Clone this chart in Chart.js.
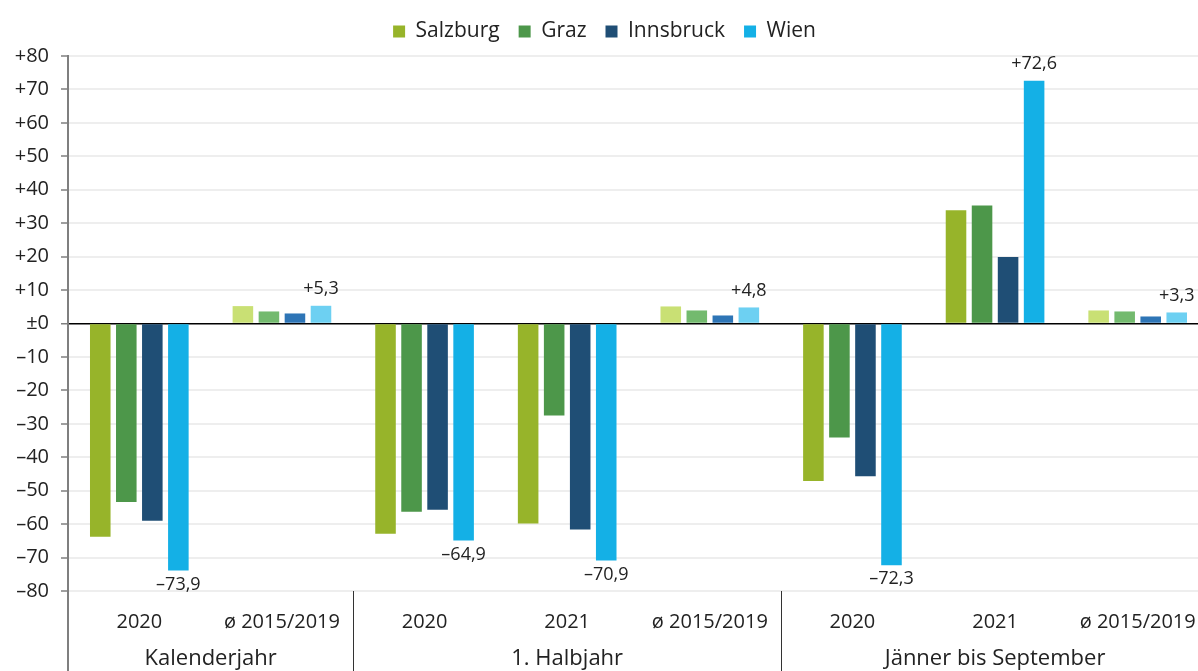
<!DOCTYPE html>
<html>
<head>
<meta charset="utf-8">
<script src="https://cdn.jsdelivr.net/npm/chart.js@4.4.0/dist/chart.umd.min.js"></script>
<style>
  html, body { margin: 0; padding: 0; background: #fff; overflow: hidden; }
  #wrap { position: relative; width: 1212px; height: 671px; }
</style>
</head>
<body>
<div id="wrap"><canvas id="chart"></canvas></div>
<script>
// Kategorien und Gruppen
const categories = ['2020', 'ø 2015/2019', '2020', '2021', 'ø 2015/2019', '2020', '2021', 'ø 2015/2019'];
const groupNames = ['Kalenderjahr', '1. Halbjahr', 'Jänner bis September'];
const groupSizes = [2, 3, 3];
const isAverage = [false, true, false, false, true, false, false, true];

// Veränderung in % je Flughafen
const salzburg  = [-63.8, 5.2, -62.9, -59.8, 5.1, -47.1, 33.9, 3.9];
const graz      = [-53.4, 3.6, -56.3, -27.5, 3.9, -34.1, 35.3, 3.6];
const innsbruck = [-59.0, 3.0, -55.7, -61.6, 2.4, -45.7, 19.9, 2.1];
const wien      = [-73.9, 5.3, -64.9, -70.9, 4.8, -72.3, 72.6, 3.3];

const seriesNames = ['Salzburg', 'Graz', 'Innsbruck', 'Wien'];
const darkColors  = ['#97b42a', '#4d974a', '#1f4e75', '#14b0e6'];
const lightColors = ['#c9e074', '#73ba6e', '#2e75b6', '#6dd0f2'];

const yTicks = [80, 70, 60, 50, 40, 30, 20, 10, 0, -10, -20, -30, -40, -50, -60, -70, -80];

const FONT = '"Open Sans", Lato, sans-serif';

function fmtSigned(v, digits) {
    const s = Math.abs(v).toFixed(digits).replace('.', ',');
    if (v > 0) return '+' + s;
    if (v < 0) return '\u2013' + s;
    return '\u00b10';
}

// a bit more room under the legend
const legendSpace = {
    id: 'legendSpace',
    beforeInit(chart) {
        const fit = chart.legend.fit;
        chart.legend.fit = function () {
            fit.call(this);
            this.height += 4;
        };
    }
};

// data labels on the Wien bars
const wienLabels = {
    id: 'wienLabels',
    afterDatasetsDraw(chart) {
        const meta = chart.getDatasetMeta(3);
        const ctx = chart.ctx;
        ctx.save();
        ctx.font = '18px ' + FONT;
        ctx.fillStyle = '#222';
        ctx.textAlign = 'center';
        meta.data.forEach((bar, i) => {
            const v = wien[i];
            if (v >= 0) {
                ctx.textBaseline = 'bottom';
                ctx.fillText(fmtSigned(v, 1), bar.x, bar.y - 8);
            } else {
                ctx.textBaseline = 'top';
                ctx.fillText(fmtSigned(v, 1), bar.x, bar.y + 5);
            }
        });
        ctx.restore();
    }
};

// group labels and separators under the x axis
const groupAxis = {
    id: 'groupAxis',
    afterDraw(chart) {
        const x = chart.scales.x;
        const area = chart.chartArea;
        const ctx = chart.ctx;
        const h = chart.height;
        ctx.save();
        // y-axis line continues down
        ctx.strokeStyle = '#7f7f7f';
        ctx.lineWidth = 2;
        ctx.beginPath();
        ctx.moveTo(area.left, area.bottom);
        ctx.lineTo(area.left, h);
        ctx.stroke();

        ctx.font = '22px ' + FONT;
        ctx.fillStyle = '#222';
        ctx.textAlign = 'center';
        ctx.textBaseline = 'middle';
        let start = 0;
        groupSizes.forEach((n, g) => {
            const end = start + n;
            const left = start === 0 ? area.left
                : (x.getPixelForValue(start - 1) + x.getPixelForValue(start)) / 2;
            const right = end >= categories.length ? area.right
                : (x.getPixelForValue(end - 1) + x.getPixelForValue(end)) / 2;
            if (start > 0) {
                ctx.strokeStyle = '#333';
                ctx.lineWidth = 1;
                ctx.beginPath();
                ctx.moveTo(Math.round(left) + 0.5, area.bottom);
                ctx.lineTo(Math.round(left) + 0.5, h);
                ctx.stroke();
            }
            ctx.fillText(groupNames[g], (left + right) / 2, 659);
            start = end;
        });
        ctx.restore();
    }
};

const seriesData = [salzburg, graz, innsbruck, wien];

new Chart(document.getElementById('chart'), {
    type: 'bar',
    data: {
        labels: categories,
        datasets: seriesData.map((values, s) => ({
            label: seriesNames[s],
            data: values,
            backgroundColor: categories.map((c, i) => isAverage[i] ? lightColors[s] : darkColors[s]),
            borderWidth: 0,
            categoryPercentage: 0.73,
            barPercentage: 0.79
        }))
    },
    options: {
        responsive: true,
        maintainAspectRatio: false,
        animation: false,
        layout: { padding: { left: 0, right: 3, top: 2, bottom: 0 } },
        plugins: {
            legend: {
                position: 'top',
                labels: {
                    font: { family: FONT, size: 21 },
                    color: '#222',
                    boxWidth: 12,
                    boxHeight: 12,
                    padding: 19,
                    generateLabels(chart) {
                        return seriesNames.map((n, s) => ({
                            text: n,
                            fillStyle: darkColors[s],
                            strokeStyle: darkColors[s],
                            lineWidth: 0,
                            datasetIndex: s,
                            fontColor: '#222'
                        }));
                    }
                }
            },
            tooltip: { enabled: false }
        },
        scales: {
            x: {
                grid: { display: false },
                border: { display: false },
                ticks: {
                    font: { family: FONT, size: 20 },
                    color: '#222',
                    padding: 11,
                    maxRotation: 0,
                    autoSkip: false
                },
                afterFit(scale) { scale.height = 80; }
            },
            y: {
                min: -80,
                max: 80,
                afterBuildTicks(scale) {
                    scale.ticks = yTicks.map(v => ({ value: v }));
                },
                grid: {
                    color: ctx => ctx.tick && ctx.tick.value === 0 ? '#000' : '#eeeeee',
                    lineWidth: ctx => ctx.tick && ctx.tick.value === 0 ? 1.5 : 2,
                    tickColor: '#7f7f7f',
                    tickLength: 7,
                    tickWidth: 1.5
                },
                border: { color: '#7f7f7f', width: 2 },
                ticks: {
                    font: { family: FONT, size: 20 },
                    color: '#222',
                    padding: 12,
                    callback: v => fmtSigned(v, 0)
                },
                afterFit(scale) { scale.width = 68; }
            }
        }
    },
    plugins: [legendSpace, wienLabels, groupAxis]
});
</script>
</body>
</html>
